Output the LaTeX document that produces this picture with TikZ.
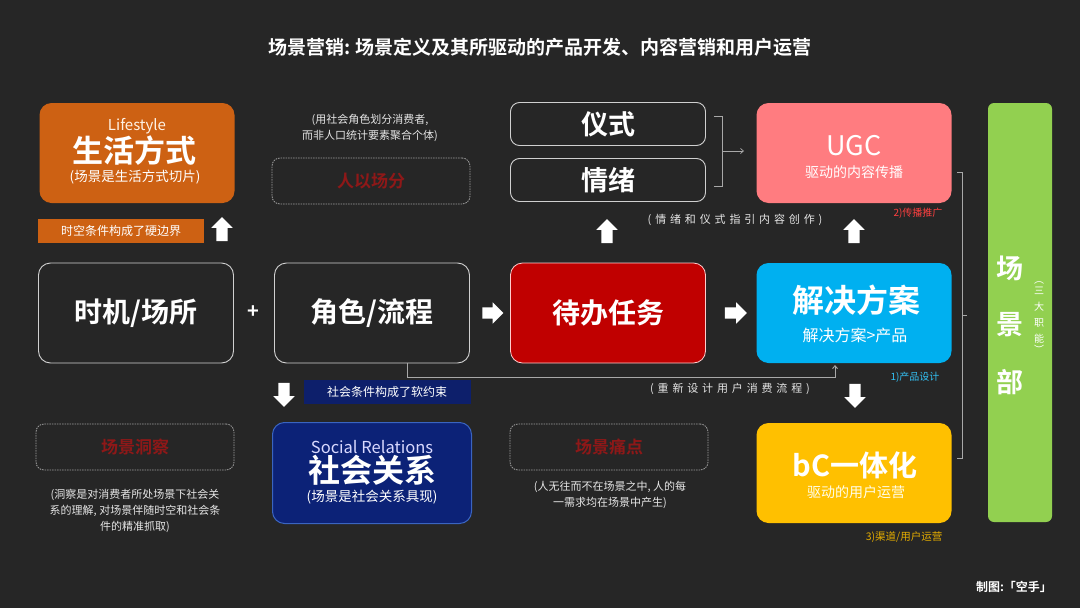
\documentclass[tikz,border=0pt]{standalone}
\usepackage{fontspec}
\setmainfont{Noto Sans CJK SC}[BoldFont={Noto Sans CJK SC Bold}]
\newfontfamily\spacedfont{Noto Sans CJK SC}[LetterSpace=35]
\usetikzlibrary{shapes.arrows,arrows.meta,calc}
\definecolor{bg}{HTML}{262626}
\definecolor{boxline}{HTML}{D0D0D0}
\definecolor{orangeA}{HTML}{CD6113}
\definecolor{pinkA}{HTML}{FF7C80}
\definecolor{redA}{HTML}{C00000}
\definecolor{blueA}{HTML}{00B0F0}
\definecolor{navyA}{HTML}{0C2277}
\definecolor{navyLine}{HTML}{3A64C0}
\definecolor{navyBar}{HTML}{0D1F6B}
\definecolor{yellowA}{HTML}{FFC000}
\definecolor{greenA}{HTML}{92D050}
\definecolor{darkred}{HTML}{8E1818}
\definecolor{capgray}{HTML}{E6E6E6}
\definecolor{linegray}{HTML}{A8A8A8}
\newcommand{\fs}[1]{\fontsize{#1}{#1}\selectfont}
\begin{document}
\begin{tikzpicture}[x=1pt,y=-1pt,
  box/.style={rectangle, rounded corners=12pt, minimum width=195pt, minimum height=100pt, inner sep=0pt, align=center, text=white},
  outlinebox/.style={box, draw=boxline, line width=0.9pt},
  smallbox/.style={rectangle, rounded corners=9pt, draw=boxline, line width=0.9pt, minimum width=195pt, minimum height=43pt, inner sep=0pt, text=white, font=\fs{27}\bfseries},
  dashbox/.style={rectangle, rounded corners=8pt, draw=gray!75, line width=0.8pt, dash pattern=on 1.5pt off 1pt, minimum width=198pt, minimum height=46pt, inner sep=0pt, text=darkred, font=\fs{17}\bfseries},
  bigtxt/.style={text=white, font=\fs{#1}\bfseries, inner sep=0pt},
  subtxt/.style={text=white, font=\fs{#1}, inner sep=0pt},
  caption/.style={text=capgray, font=\fs{11}, inner sep=0pt, align=center},
  spacedcap/.style={text=capgray, font=\spacedfont\fs{11}, inner sep=0pt},
  blockarrow/.style={single arrow, fill=white, draw=none, inner xsep=0pt, inner ysep=5.5pt, minimum height=24pt, single arrow head extend=5pt, single arrow head indent=0pt},
  bar/.style={rectangle, minimum height=24pt, inner sep=0pt, text=white, font=\fs{12}},
  conn/.style={draw=linegray, line width=0.9pt},
  tag/.style={font=\fs{10}, inner sep=0pt}
]
\fill[bg] (0,0) rectangle (1080,608);

% title
\node[text=white, font=\fs{19}\bfseries, inner sep=0pt] (title) at (540,47) {场景营销: 场景定义及其所驱动的产品开发、内容营销和用户运营};

% ---- row 1 ----
\node[box, fill=orangeA] (life) at (137,153) {};
\node[subtxt=15, text=white!90!orange] (lifeEn) at (137,126) {Lifestyle};
\node[bigtxt=31] (lifeCn) at (134,151) {生活方式};
\node[subtxt=13.5] (lifeSub) at (135,177) {(场景是生活方式切片)};
\node[bar, fill=orangeA, minimum width=166pt] (hardbar) at (121,231) {时空条件构成了硬边界};
\node[blockarrow, rotate=90] (upA) at (222,232) {};

\node[caption] (roleCap) at (370,128) {(用社会角色划分消费者,\\[3pt]而非人口统计要素聚合个体)};
\node[dashbox] (renyi) at (371,181) {人以场分};

\node[smallbox] (yishi) at (608,124) {仪式};
\node[smallbox] (qingxu) at (608,180) {情绪};
\coordinate (brT) at (722,116);
\coordinate (brB) at (722,186);
\coordinate (brM) at (722,151);
\draw[conn, line width=0.7pt] ($(brT)+(-8,0)$) -- (brT) -- (brB) -- ($(brB)+(-8,0)$);
\node[box, fill=pinkA] (ugc) at (854,153) {};
\coordinate (ugcIn) at (744,151);
\draw[conn, line width=0.7pt, -{Straight Barb[length=3pt,width=5pt]}] (brM) -- (ugcIn);
\node[subtxt=27] (ugcT) at (854,146) {UGC};
\node[subtxt=14] (ugcSub) at (854,172) {驱动的内容传播};
\node[tag, text=red!75!white] (tag2) at (918,213) {2)传播推广};
\node[spacedcap] (qxCap) at (735,220) {(情绪和仪式指引内容创作)};
\node[blockarrow, rotate=90] (upB) at (607,234) {};
\node[blockarrow, rotate=90] (upC) at (854,234) {};

% ---- row 2 ----
\node[outlinebox] (shiji) at (136,313) {};
\node[bigtxt=28] (shijiT) at (136,313) {时机/场所};
\node[text=white, font=\fs{20}\bfseries, inner sep=0pt] (plus) at (253,312) {+};
\node[outlinebox] (juese) at (372,313) {};
\node[bigtxt=28] (jueseT) at (372,313) {角色/流程};
\node[blockarrow, minimum height=21pt] (rA) at (490,313) {};
\node[box, fill=redA, draw=white!80!red, line width=0.8pt] (daiban) at (608,313) {};
\node[bigtxt=28] (daibanT) at (608,313) {待办任务};
\node[blockarrow, minimum height=22pt] (rB) at (733,313) {};
\node[box, fill=blueA] (jiejue) at (854,313) {};
\node[bigtxt=32] (jiejueT) at (856,300) {解决方案};
\node[subtxt=16] (jiejueSub) at (855,335) {解决方案>产品};
\node[tag, text=blueA!80!white] (tag1) at (915,377) {1)产品设计};

\coordinate (c1) at (407,377);
\coordinate (c2) at (835,377);
\coordinate (c3) at (835,365);
\draw[conn, -{Straight Barb[length=3pt,width=5pt]}] (juese.south -| c1) -- (c1) -- (c2) -- (c3);
\node[spacedcap] (redesign) at (730,389) {(重新设计用户消费流程)};

\node[blockarrow, rotate=-90] (downA) at (284,392) {};
\node[bar, fill=navyBar, minimum width=167pt] (softbar) at (387,392) {社会条件构成了软约束};
\node[blockarrow, rotate=-90] (downB) at (855,393) {};

% ---- row 3 ----
\node[dashbox] (dongcha) at (135,447) {场景洞察};
\node[caption] (dongchaCap) at (135,511) {(洞察是对消费者所处场景下社会关\\[3.5pt]系的理解, 对场景伴随时空和社会条\\[3.5pt]件的精准抓取)};
\node[box, fill=navyA, draw=navyLine, line width=1pt, minimum width=199pt, minimum height=101pt] (social) at (372,473) {};
\node[subtxt=16.5, text=white!85!blue] (socialEn) at (372,447) {Social Relations};
\node[bigtxt=32] (socialCn) at (372,470) {社会关系};
\node[subtxt=13.5] (socialSub) at (372,497) {(场景是社会关系具现)};
\node[dashbox] (tongdian) at (609,447) {场景痛点};
\node[caption] (tongdianCap) at (610,495) {(人无往而不在场景之中, 人的每\\[3.5pt]一需求均在场景中产生)};
\node[box, fill=yellowA] (bc) at (854,473) {};
\node[bigtxt=29] (bcT) at (855,465) {bC一体化};
\node[subtxt=14, text=white!92!yellow] (bcSub) at (856,492) {驱动的用户运营};
\node[tag, text=yellowA!90!black, font=\fs{10.5}] (tag3) at (904,537) {3)渠道/用户运营};

% right bracket
\coordinate (rbT) at (962,172);
\coordinate (rbB) at (962,458);
\coordinate (rbM) at (962,315);
\draw[conn, line width=0.8pt] ($(rbT)+(-5,0)$) -- (rbT) -- (rbB) -- ($(rbB)+(-5,0)$);
\draw[conn, line width=0.8pt] (rbM) -- ($(rbM)+(5,0)$);

% green bar
\node[rectangle, rounded corners=6pt, fill=greenA, minimum width=64pt, minimum height=419pt, inner sep=0pt] (dept) at (1020,312.5) {};
\node[bigtxt=27] (d1) at (1010,268) {场};
\node[bigtxt=27] (d2) at (1010,325) {景};
\node[bigtxt=27] (d3) at (1010,382) {部};
\node[text=white, font=\fs{10}, inner sep=0pt, align=center] (sanda) at (1039,318) {︵\\[1pt]三\\[6pt]大\\[6pt]职\\[6pt]能\\[1pt]︶};

\node[text=white, font=\fs{12}\bfseries, inner sep=0pt] (credit) at (1014,587) {制图:「空手」};
\end{tikzpicture}
\end{document}
